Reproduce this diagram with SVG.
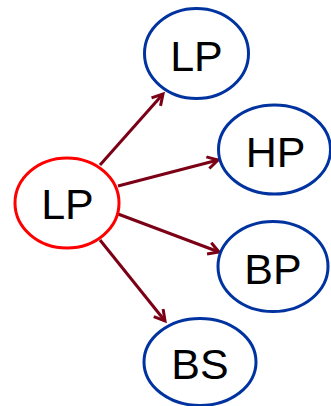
<svg xmlns="http://www.w3.org/2000/svg" width="331" height="406" viewBox="0 0 331 406">
  <style>
    .node { fill: #ffffff; stroke-width: 3; }
    .src { stroke: #ff0000; }
    .dst { stroke: #0033a0; }
    .label { font-family: "Liberation Sans", Arial, sans-serif; font-size: 43px; fill: #000000; text-anchor: middle; }
    .edge { stroke: #7b0016; stroke-width: 3; fill: none; }
  </style>
  <defs>
    <marker id="chevron" markerUnits="userSpaceOnUse" markerWidth="16" markerHeight="16" refX="12" refY="7" orient="auto">
      <path d="M1.5,1 L12,7 L1.5,13" fill="none" stroke="#7b0016" stroke-width="3" stroke-linejoin="miter"/>
    </marker>
  </defs>

  <!-- connectors from the source filter to each derived filter -->
  <g id="connectors">
    <line class="edge" x1="100" y1="165" x2="163" y2="94" marker-end="url(#chevron)"/>
    <line class="edge" x1="118" y1="186" x2="218" y2="160" marker-end="url(#chevron)"/>
    <line class="edge" x1="118" y1="214" x2="219" y2="252" marker-end="url(#chevron)"/>
    <line class="edge" x1="100" y1="240" x2="165" y2="321" marker-end="url(#chevron)"/>
  </g>

  <g id="node-source-lp">
    <ellipse class="node src" cx="67" cy="203" rx="52" ry="45"/>
    <text class="label" x="67.5" y="219">LP</text>
  </g>

  <g id="node-lp">
    <ellipse class="node dst" cx="196.5" cy="53.5" rx="52" ry="45"/>
    <text class="label" x="196.5" y="71">LP</text>
  </g>

  <g id="node-hp">
    <ellipse class="node dst" cx="274.5" cy="149.5" rx="56" ry="44.5"/>
    <text class="label" x="275.5" y="166.5">HP</text>
  </g>

  <g id="node-bp">
    <ellipse class="node dst" cx="273" cy="266.5" rx="55" ry="45"/>
    <text class="label" x="273" y="283.5">BP</text>
  </g>

  <g id="node-bs">
    <ellipse class="node dst" cx="200" cy="362" rx="56" ry="43.5"/>
    <text class="label" x="200" y="379">BS</text>
  </g>
</svg>
